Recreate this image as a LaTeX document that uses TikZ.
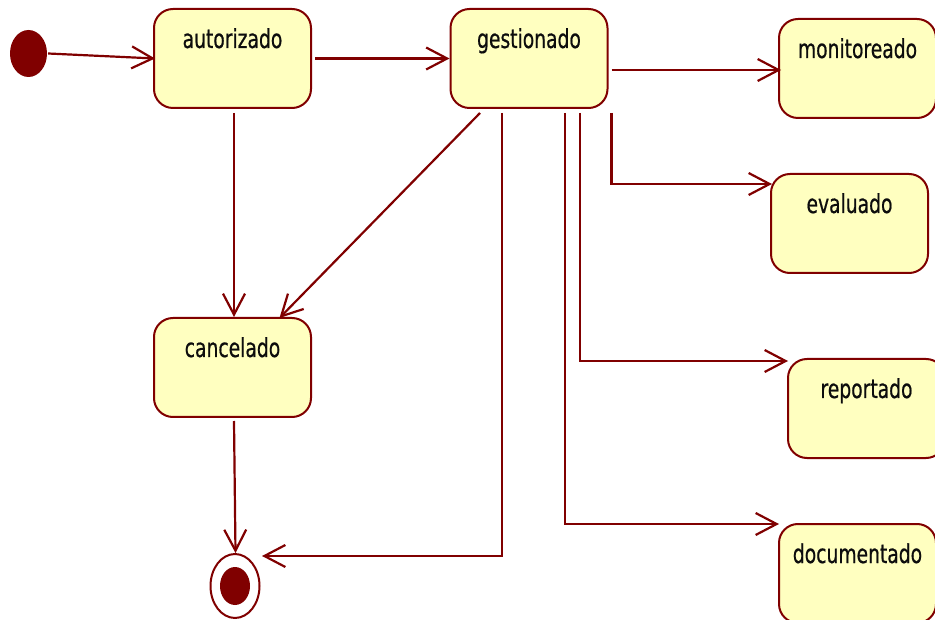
\documentclass[tikz,border=0pt]{standalone}
\usepackage{fontspec}
\newfontfamily\statefont[FakeStretch=0.72,FakeBold=0.6]{DejaVu Sans}
\usetikzlibrary{arrows.meta,shapes.geometric,calc}
\definecolor{umlline}{HTML}{800000}
\definecolor{umlfill}{HTML}{FFFFC0}

\begin{document}
\begin{tikzpicture}[x=1pt,y=-1pt,
  state/.style={draw=umlline, fill=umlfill, line width=2pt, rounded corners=19pt,
    minimum width=157pt, minimum height=99pt, inner sep=0pt,
    text height=39pt, text depth=60pt, text=black!95,
    font=\statefont\fontsize{26}{26}\selectfont},
  initstate/.style={ellipse, fill=umlline, minimum width=37pt, minimum height=47pt, inner sep=0pt},
  finalring/.style={ellipse, draw=umlline, line width=2pt, fill=white, minimum width=49pt, minimum height=64pt, inner sep=0pt},
  finaldot/.style={ellipse, fill=umlline, minimum width=30pt, minimum height=38pt, inner sep=0pt},
  trans/.style={draw=umlline, line width=2.2pt, -{Straight Barb[length=21pt,width=22pt]}}]

\useasboundingbox (0,0) rectangle (935,620);

% states
\node[initstate] (ini) at (28.5,53.5) {};
\node[state] (aut) at (232.5,58.5) {autorizado};
\node[state] (gest) at (529,58.5) {gestionado};
\node[state] (mon) at (857.5,68.5) {monitoreado};
\node[state] (eval) at (849.5,223.5) {evaluado};
\node[state] (rep) at (866.5,408.5) {reportado};
\node[state] (doc) at (857.5,573.5) {documentado};
\node[state] (canc) at (232.5,367.5) {cancelado};
\node[finalring] (fin) at (235,586) {};
\node[finaldot] (findot) at (fin.center) {};

% transitions
\draw[trans] ([xshift=1pt]ini.east) -- ([xshift=2pt]aut.west);
\draw[trans] ([xshift=3pt]aut.east) -- (gest.west);
\draw[trans] ([xshift=3pt,yshift=-11.5pt]gest.east) -- ([xshift=3pt,yshift=-11.5pt]gest.east -| mon.west);
\draw[trans] ([xshift=3pt,yshift=-4pt]gest.south east) |- ([xshift=2pt,yshift=-11pt]eval.north west);
\draw[trans] ([xshift=51pt,yshift=-4pt]gest.south) |- ([xshift=1pt,yshift=-3pt]rep.north west);
\draw[trans] ([xshift=36pt,yshift=-4pt]gest.south) |- ([xshift=1pt,yshift=-1pt]doc.north west);
\draw[trans] ([xshift=-27pt,yshift=-4pt]gest.south) |- ($(fin.center)+(27,-30)$);
\draw[trans] ([xshift=-49pt,yshift=-4pt]gest.south) -- ([xshift=47pt,yshift=-1pt]canc.north);
\draw[trans] ([xshift=1.5pt,yshift=-4pt]aut.south) -- ([xshift=1.5pt]canc.north);
\draw[trans] ([xshift=1.5pt,yshift=-3pt]canc.south) -- ([xshift=0.5pt]fin.north);

\end{tikzpicture}
\end{document}
